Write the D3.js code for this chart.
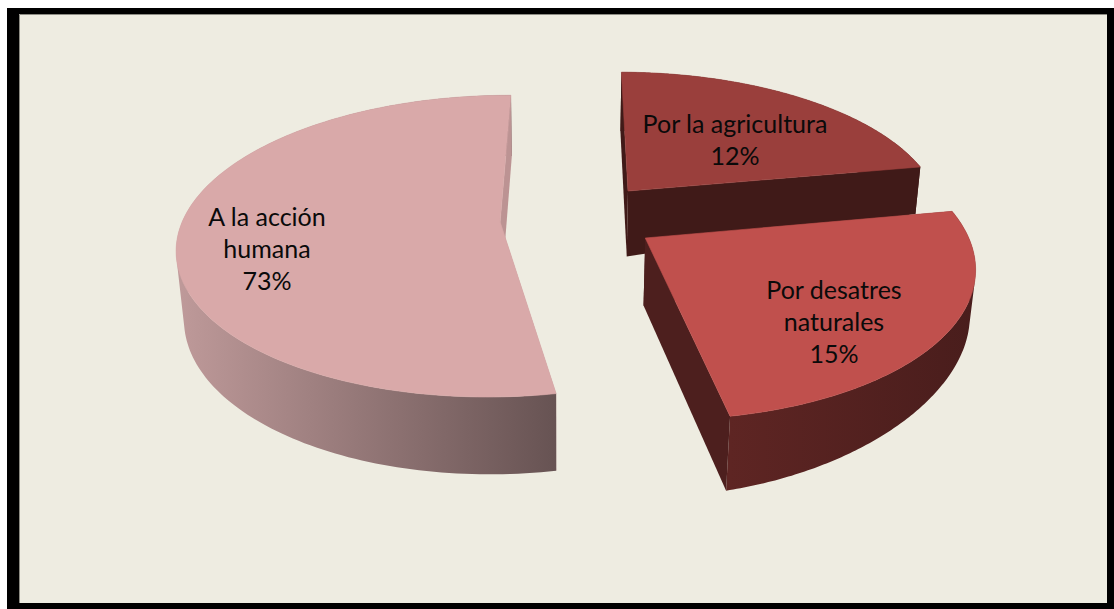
<!DOCTYPE html>
<html>
<head>
<meta charset="utf-8">
<script src="https://cdn.jsdelivr.net/npm/d3@7"></script>
<style>
  html, body { margin: 0; padding: 0; background: #fff; overflow: hidden; }
  svg { display: block; }
  text { font-family: Lato, "Open Sans", sans-serif; fill: #0a0a0a; }
</style>
</head>
<body>
<svg id="chart" width="1114" height="609"></svg>
<script>
/* Exploded 3D pie. The labels quote 12/15/73 but the wedges as drawn
   sweep about 22/25/53 of the circle, so both are kept. */
var categories = ['Por la agricultura', 'Por desatres naturales', 'A la acción humana'];
var percentLabels = ['12%', '15%', '73%'];
var sliceShare = [22.0, 25.0, 53.0];

var labelLines = [['Por la agricultura'], ['Por desatres', 'naturales'], ['A la acción', 'humana']];
var labelX = [735, 834, 267];
var labelY = [133, 299, 226];

var topColor = ['#9a3f3c', '#c0504d', '#d9a9a9'];
var cutColor = ['#401a18', '#4d1f1e', '#bc9393'];
var rimStops = [['#401a18', '#401a18'], ['#5e2523', '#491d1c'], ['#bf9a9a', '#675353']];

// how far each wedge is pulled out, in pie radii
var offsetU = [0.205, 0.248, -0.204];
var offsetV = [-0.218, 0.107, 0];

var cx = 565, cy = 222, Rx = 318, Ry = 147, persp = 0.16;
var vpX = 560, vpY = 3630;
var startRot = 0.007;

var svg = d3.select('#chart');
var defs = svg.append('defs');

function topPoint(u, v) {
  var w = 1 - persp * v;
  return [cx + Rx * u / w, cy + Ry * v / w];
}

// extrude a top-face point down towards the vanishing point
function bottomPoint(p) {
  var dx = Math.max(0, p[0] - vpX); // wall only thins towards the right
  var h = 55.5 + 0.055 * p[1] - 1.35e-4 * dx * dx;
  return [p[0] + (vpX - p[0]) * h / (vpY - p[1]), p[1] + h];
}

var line = d3.line();

/* frame */
svg.append('rect').attr('x', 7).attr('y', 8).attr('width', 1107).attr('height', 601).attr('fill', '#000');
svg.append('rect').attr('x', 19).attr('y', 14).attr('width', 1088).attr('height', 589).attr('fill', '#eeece1');
svg.append('path').attr('d', 'M19.5,603V14.5H1107').attr('fill', 'none').attr('stroke', '#8d8c84').attr('stroke-width', 1);

var slices = d3.pie().sort(null)
  .startAngle(startRot).endAngle(2 * Math.PI + startRot)
  .value(function (d) { return d; })(sliceShare);

var order = [2, 0, 1];
order.forEach(function (i) {
  var s = slices[i];
  var ou = offsetU[i], ov = offsetV[i];

  var rim = d3.range(0, 161).map(function (k) {
    var a = s.startAngle + (s.endAngle - s.startAngle) * k / 160;
    return topPoint(ou + Math.sin(a), ov - Math.cos(a));
  });
  var apex = topPoint(ou, ov);
  var g = svg.append('g').attr('class', 'slice');

  function cutFace(p) {
    g.append('path')
      .attr('d', line([apex, p, bottomPoint(p), bottomPoint(apex)]) + 'Z')
      .attr('fill', cutColor[i]);
  }

  /* leading cut sits behind the outer wall, trailing cut in front of it */
  cutFace(rim[0]);

  /* outer wall: quads in one path so there are no seams; winding is
     forced the same way or the quads cancel where the rim turns back */
  var visible = rim.filter(function (p) { return p[1] > cy + ov * Ry; });
  var xRange = d3.extent(visible, function (p) { return p[0]; });
  var grad = defs.append('linearGradient')
    .attr('id', 'rim-' + i)
    .attr('gradientUnits', 'userSpaceOnUse')
    .attr('x1', xRange[0]).attr('x2', xRange[1])
    .attr('y1', 0).attr('y2', 0);
  rimStops[i].forEach(function (c, j) {
    grad.append('stop').attr('offset', j).attr('stop-color', c);
  });
  var wall = d3.pairs(rim).map(function (pair) {
    var quad = [pair[0], pair[1], bottomPoint(pair[1]), bottomPoint(pair[0])];
    if (d3.polygonArea(quad) < 0) quad.reverse();
    return line(quad) + 'Z';
  }).join('');
  g.append('path').attr('d', wall).attr('fill', 'url(#rim-' + i + ')');

  cutFace(rim[rim.length - 1]);

  /* top face */
  g.append('path')
    .attr('d', line([apex].concat(rim)) + 'Z')
    .attr('fill', topColor[i])
    .attr('stroke', topColor[i])
    .attr('stroke-width', 0.6);
});

/* labels */
categories.forEach(function (c, i) {
  var lines = labelLines[i].concat([percentLabels[i]]);
  lines.forEach(function (t, j) {
    svg.append('text')
      .attr('x', labelX[i])
      .attr('y', labelY[i] + j * 32)
      .attr('text-anchor', 'middle')
      .style('font-size', '25px')
      .text(t);
  });
});
</script>
</body>
</html>
